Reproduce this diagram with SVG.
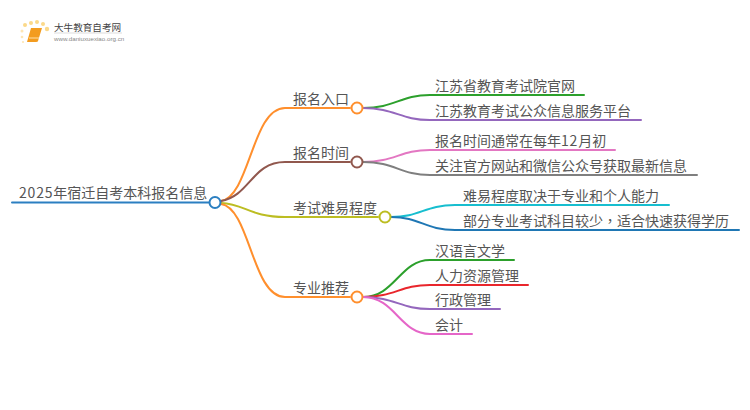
<svg xmlns="http://www.w3.org/2000/svg" width="750" height="410" viewBox="0 0 750 410">
<style>
text{font-family:"Noto Sans CJK SC","Noto Sans",sans-serif;fill:#555;font-size:14px}
.c{fill:none;stroke-width:2;stroke-linecap:round}
.n{fill:#fff;stroke-width:2}
.d{fill:#fbd98a}
.g{letter-spacing:.8px}
</style>
<rect width="750" height="410" fill="#fff"/>
<g id="logo">
<circle class="d" cx="25" cy="25" r="2"/><circle class="d" cx="31" cy="23" r="2"/><circle class="d" cx="37" cy="22" r="2"/><circle class="d" cx="43" cy="24" r="2"/><circle class="d" cx="47" cy="29" r="2.2"/><circle cx="22" cy="31" r="1.5" fill="#fde6b5"/><circle cx="22" cy="37" r="1.3" fill="#fde6b5"/><circle cx="23" cy="42" r="1.1" fill="#fde6b5"/>
<path d="M31 28H42L38 41Q38 42 36 42H27Z" fill="#f39c1f"/>
<path d="M29 38H39" stroke="#ffe0a8" stroke-width="1" fill="none"/>
<path d="M54 33H122" stroke="#ddd" stroke-width="1" fill="none"/>
<text x="54" y="31" style="font-size:9.6px;fill:#444">大牛教育自考网</text>
<text x="54" y="41" style="font-size:6.2px;fill:#888;font-family:'Liberation Sans',sans-serif">www.daniuxuexiao.org.cn</text>
</g>
<g id="connectors">
<path class="c" d="M12 202.500H209" stroke="#2b7fc1"/>
<path class="c" d="M221 201C250 196 252 108 285 108H350" stroke="#ff8f2d"/>
<path class="c" d="M221 201C250 196 252 162 285 162H350" stroke="#91584e"/>
<path class="c" d="M221 203C245 204 250 217 285 217H378" stroke="#bcbd22"/>
<path class="c" d="M221 204C250 208 252 297 285 297H350" stroke="#ff8f2d"/>
<path class="c" d="M363 108C395 108 400 95 430 95H584" stroke="#2ca02c"/>
<path class="c" d="M363 108C395 108 400 120 430 120H641" stroke="#9467bd"/>
<path class="c" d="M363 162C395 162 400 150 430 150H615" stroke="#e377c2"/>
<path class="c" d="M363 162C395 162 400 175 430 175H697" stroke="#7f7f7f"/>
<path class="c" d="M391 217C420 217 425 205 455 205H669" stroke="#17becf"/>
<path class="c" d="M391 217C420 217 425 230 455 230H739" stroke="#1f77b4"/>
<path class="c" d="M363 297C395 297 400 260 430 260H514" stroke="#2ca02c"/>
<path class="c" d="M363 297C395 297 400 285 430 285H528" stroke="#e9262c"/>
<path class="c" d="M363 297C395 297 400 309 430 309H500" stroke="#9467bd"/>
<path class="c" d="M363 297C395 297 400 334 430 334H472" stroke="#e566c8"/>
</g>
<g id="root"><text x="19" y="198"><tspan class="g">2025</tspan>年宿迁自考本科报名信息</text><circle class="n" cx="215" cy="202.500" r="5.500" stroke="#2b7fc1"/></g>
<g id="n1"><text x="293" y="104">报名入口</text><circle class="n" cx="357" cy="108" r="5.500" stroke="#ff8f2d"/></g>
<g id="n2"><text x="293" y="158">报名时间</text><circle class="n" cx="357" cy="162" r="5.500" stroke="#91584e"/></g>
<g id="n3"><text x="293" y="213">考试难易程度</text><circle class="n" cx="385" cy="217" r="5.500" stroke="#bcbd22"/></g>
<g id="n4"><text x="293" y="293">专业推荐</text><circle class="n" cx="357" cy="297" r="5.500" stroke="#ff8f2d"/></g>
<g id="l1"><text x="435" y="91">江苏省教育考试院官网</text></g>
<g id="l2"><text x="435" y="116">江苏教育考试公众信息服务平台</text></g>
<g id="l3"><text x="435" y="146">报名时间通常在每年<tspan class="g">12</tspan>月初</text></g>
<g id="l4"><text x="435" y="171">关注官方网站和微信公众号获取最新信息</text></g>
<g id="l5"><text x="463" y="201">难易程度取决于专业和个人能力</text></g>
<g id="l6"><text x="463" y="226">部分专业考试科目较少<tspan style="font-family:'Noto Sans CJK TC',sans-serif">，</tspan>适合快速获得学历</text></g>
<g id="l7"><text x="435" y="256">汉语言文学</text></g>
<g id="l8"><text x="435" y="281">人力资源管理</text></g>
<g id="l9"><text x="435" y="305">行政管理</text></g>
<g id="l10"><text x="435" y="330">会计</text></g>
</svg>
